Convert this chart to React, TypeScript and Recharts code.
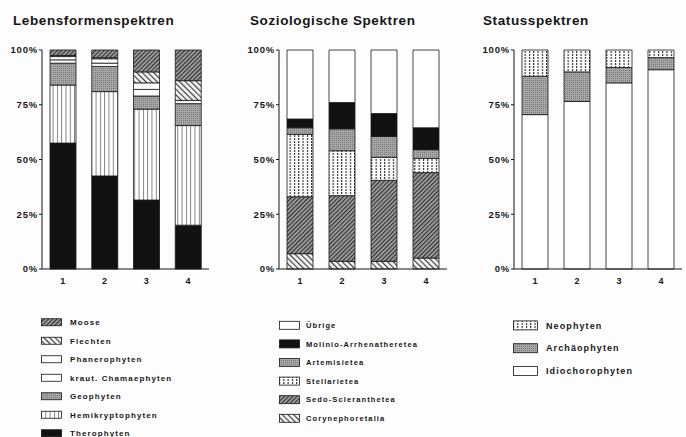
import React from "react";
import { BarChart, Bar, XAxis, YAxis } from "recharts";

// bar labels shared by all three panels
const categories = ["1", "2", "3", "4"];
const yTicks = [0, 25, 50, 75, 100];

// Lebensformenspektren (bottom -> top)
const therophyten = [57.5, 42.5, 31.5, 20];
const hemikryptophyten = [26.5, 38.5, 41.5, 45.5];
const geophyten = [10, 11.5, 6, 10];
const krautChamaephyten = [1.5, 1.5, 3, 1.5];
const phanerophyten = [1.5, 2, 3, 0];
const flechten = [0.5, 0.5, 5, 9];
const moose = [2.5, 3.5, 10, 14];

// Soziologische Spektren (bottom -> top)
const corynephoretalia = [7, 3.5, 3.5, 5];
const sedoScleranthetea = [26, 30, 37, 39];
const stellarietea = [28.5, 20.5, 10.5, 6.5];
const artemisietea = [3, 10, 9.5, 4];
const molinioArrhenatheretea = [4, 12, 10.5, 10];
const uebrige = [31.5, 24, 29, 35.5];

// Statusspektren (bottom -> top)
const idiochorophyten = [70.5, 76.5, 85, 91];
const archaeophyten = [17.5, 13.5, 7, 5.5];
const neophyten = [12, 10, 8, 3.5];

type Series = { key: string; name: string; values: number[]; fill: string };

const lebensformen: Series[] = [
  { key: "thero", name: "Therophyten", values: therophyten, fill: "#111" },
  { key: "hemi", name: "Hemikryptophyten", values: hemikryptophyten, fill: "url(#pVert)" },
  { key: "geo", name: "Geophyten", values: geophyten, fill: "url(#pStipple)" },
  { key: "cham", name: "kraut. Chamaephyten", values: krautChamaephyten, fill: "#fff" },
  { key: "phan", name: "Phanerophyten", values: phanerophyten, fill: "#fff" },
  { key: "flech", name: "Flechten", values: flechten, fill: "url(#pBack)" },
  { key: "moos", name: "Moose", values: moose, fill: "url(#pFwd)" },
];

const soziologisch: Series[] = [
  { key: "cory", name: "Corynephoretalia", values: corynephoretalia, fill: "url(#pBack)" },
  { key: "sedo", name: "Sedo-Scleranthetea", values: sedoScleranthetea, fill: "url(#pFwd)" },
  { key: "stel", name: "Stellarietea", values: stellarietea, fill: "url(#pDotVert)" },
  { key: "arte", name: "Artemisietea", values: artemisietea, fill: "url(#pStipple)" },
  { key: "moli", name: "Molinio-Arrhenatheretea", values: molinioArrhenatheretea, fill: "#111" },
  { key: "uebr", name: "Übrige", values: uebrige, fill: "#fff" },
];

const status: Series[] = [
  { key: "idio", name: "Idiochorophyten", values: idiochorophyten, fill: "#fff" },
  { key: "arch", name: "Archäophyten", values: archaeophyten, fill: "url(#pStipple)" },
  { key: "neo", name: "Neophyten", values: neophyten, fill: "url(#pDotVert)" },
];

const toRows = (series: Series[]) =>
  categories.map((c, i) => {
    const row: Record<string, string | number> = { cat: c };
    series.forEach((s) => (row[s.key] = s.values[i]));
    return row;
  });

const font = "'Liberation Sans', Arial, sans-serif";
const ink = "#161616";

const Patterns = () => (
  <svg width={0} height={0} style={{ position: "absolute" }}>
    <defs>
      <pattern id="pFwd" width={3} height={3} patternUnits="userSpaceOnUse" patternTransform="rotate(45)">
        <rect width={3} height={3} fill="#a0a0a0" />
        <line x1={0.6} y1={0} x2={0.6} y2={3} stroke="#2a2a2a" strokeWidth={1.1} />
      </pattern>
      <pattern id="pBack" width={4} height={4} patternUnits="userSpaceOnUse" patternTransform="rotate(-45)">
        <rect width={4} height={4} fill="#f4f4f4" />
        <line x1={0.6} y1={0} x2={0.6} y2={4} stroke="#333" strokeWidth={1.1} />
      </pattern>
      <pattern id="pStipple" width={2} height={2} patternUnits="userSpaceOnUse">
        <rect width={2} height={2} fill="#a6a6a6" />
        <rect width={1} height={1} fill="#7a7a7a" />
      </pattern>
      <pattern id="pVert" width={4.3} height={4} patternUnits="userSpaceOnUse">
        <rect width={4.3} height={4} fill="#fff" />
        <line x1={0.5} y1={0} x2={0.5} y2={4} stroke="#555" strokeWidth={0.8} />
      </pattern>
      <pattern id="pDotVert" width={4.3} height={3} patternUnits="userSpaceOnUse">
        <rect width={4.3} height={3} fill="#fff" />
        <rect x={0} y={0} width={1.1} height={2} fill="#222" />
      </pattern>
    </defs>
  </svg>
);

type PanelProps = { series: Series[]; left: number; width: number };

const Panel = ({ series, left, width }: PanelProps) => (
  <div style={{ position: "absolute", left, top: 0 }}>
    <BarChart
      width={width}
      height={296}
      data={toRows(series)}
      margin={{ top: 50, right: 4, bottom: 13, left: 10 }}
      barSize={26}
    >
      <XAxis
        dataKey="cat"
        height={14}
        stroke={ink}
        tickLine={false}
        tickMargin={3}
        tick={{ fill: ink, fontSize: 9, fontWeight: 700, fontFamily: font }}
      />
      <YAxis
        width={31}
        domain={[0, 100]}
        ticks={yTicks}
        stroke={ink}
        tickSize={3}
        tickMargin={1}
        tickFormatter={(v: number) => `${v}%`}
        tick={{ fill: ink, fontSize: 9.5, fontWeight: 700, fontFamily: font, letterSpacing: 0.8 }}
      />
      {series.map((s) => (
        <Bar
          key={s.key}
          dataKey={s.key}
          name={s.name}
          stackId="a"
          fill={s.fill}
          stroke={ink}
          strokeWidth={0.8}
          isAnimationActive={false}
        />
      ))}
    </BarChart>
  </div>
);

type LegendProps = {
  series: Series[];
  x: number;
  y: number;
  step: number;
  swW: number;
  swH: number;
  gap: number;
  size: number;
};

const PatternLegend = ({ series, x, y, step, swW, swH, gap, size }: LegendProps) => {
  const items = [...series].reverse();
  return (
    <svg
      width={220}
      height={items.length * step + 10}
      style={{ position: "absolute", left: x, top: y - step / 2 }}
    >
      {items.map((s, i) => {
        const cy = step / 2 + i * step;
        return (
          <g key={s.key}>
            <rect x={0.5} y={cy - swH / 2} width={swW} height={swH} fill={s.fill} stroke={ink} strokeWidth={0.8} />
            <text
              x={swW + gap}
              y={cy + size * 0.36}
              fontSize={size}
              fontWeight={700}
              fontFamily={font}
              letterSpacing={1.1}
              fill={ink}
            >
              {s.name}
            </text>
          </g>
        );
      })}
    </svg>
  );
};

const titleStyle: React.CSSProperties = {
  position: "absolute",
  top: 13,
  fontFamily: font,
  fontWeight: 700,
  fontSize: 13.5,
  letterSpacing: 0.6,
  color: ink,
  whiteSpace: "nowrap",
};

export default function App() {
  return (
    <div
      style={{
        position: "fixed",
        left: 0,
        top: 0,
        width: 686,
        height: 437,
        background: "#fdfdfd",
        overflow: "hidden",
      }}
    >
      <Patterns />
      <div style={{ ...titleStyle, left: 13 }}>Lebensformenspektren</div>
      <div style={{ ...titleStyle, left: 250 }}>Soziologische Spektren</div>
      <div style={{ ...titleStyle, left: 483 }}>Statusspektren</div>

      <Panel series={lebensformen} left={1} width={212} />
      <Panel series={soziologisch} left={238} width={213} />
      <Panel series={status} left={473} width={213} />

      <PatternLegend series={lebensformen} x={41} y={322.5} step={18.5} swW={20} swH={7} gap={9} size={8} />
      <PatternLegend series={soziologisch} x={279} y={325} step={18.6} swW={20} swH={8} gap={7} size={7.5} />
      <PatternLegend series={status} x={513} y={325} step={22.8} swW={24} swH={9} gap={9} size={9} />
    </div>
  );
}
